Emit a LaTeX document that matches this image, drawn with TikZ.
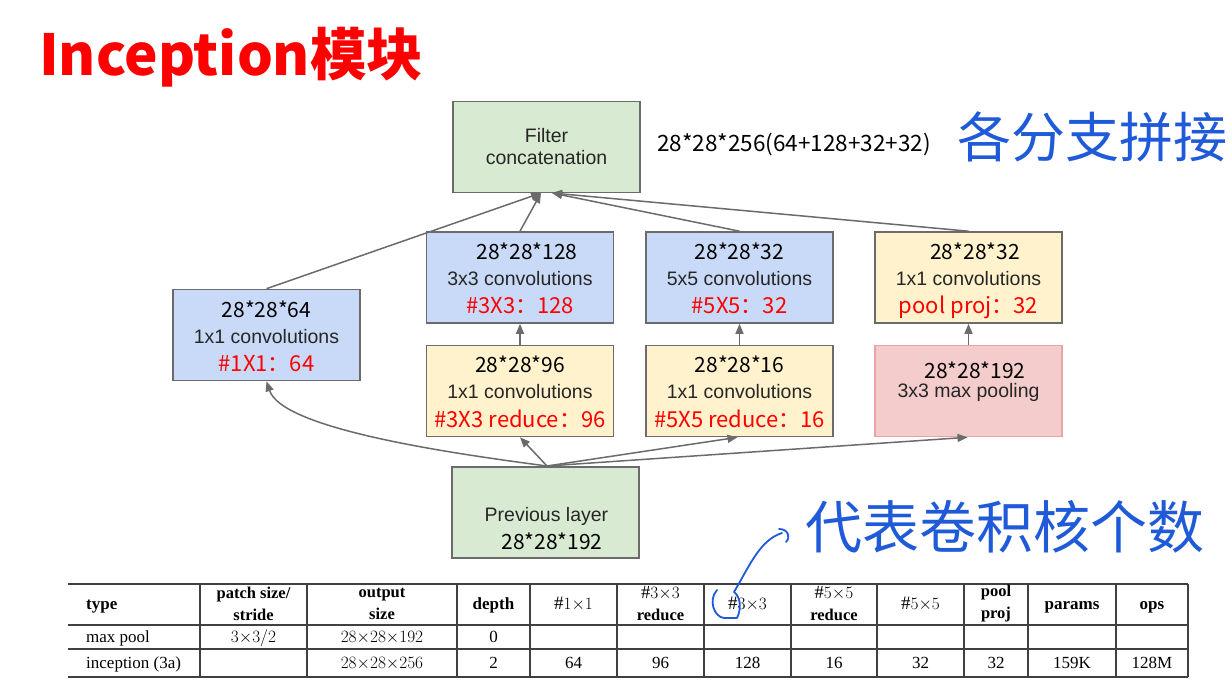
\documentclass[tikz,border=0pt]{standalone}
\usepackage{fontspec}
\setmainfont{Liberation Serif}
\newfontfamily\cjk{Noto Sans CJK SC}
\newfontfamily\arialf{Liberation Sans}
\usetikzlibrary{arrows.meta}
\definecolor{boxgreen}{HTML}{D9EAD3}
\definecolor{boxblue}{HTML}{C9DAF8}
\definecolor{boxyellow}{HTML}{FFF2CC}
\definecolor{boxpink}{HTML}{F4CCCC}
\definecolor{pinkborder}{HTML}{E8A3A3}
\definecolor{edgegray}{HTML}{6B6B6B}
\definecolor{labgray}{HTML}{262626}
\definecolor{handblue}{HTML}{1F5AD8}
\definecolor{tabline}{HTML}{404040}
\newcommand{\mth}[1]{{\fontsize{18.5}{18.5}\selectfont$#1$}}
\begin{document}
\begin{tikzpicture}[x=1pt,y=-1pt,
  box/.style={draw=edgegray, line width=1.6pt, minimum width=187pt, minimum height=91pt, inner sep=0pt},
  numtxt/.style={font=\cjk\fontsize{21}{21}\selectfont, text=black, anchor=base, inner sep=0pt},
  labtxt/.style={font=\arialf\fontsize{19.5}{19.5}\selectfont, text=labgray, anchor=base, inner sep=0pt},
  redtxt/.style={font=\cjk\fontsize{22}{22}\selectfont, text=red, anchor=base, inner sep=0pt},
  arr/.style={draw=edgegray, line width=1.5pt, -{Triangle[length=10pt,width=8pt]}},
  handtxt/.style={font=\cjk\fontsize{54}{54}\selectfont, text=handblue, inner sep=0pt},
  handline/.style={draw=handblue, line width=1.8pt, line cap=round, line join=round},
  tline/.style={draw=tabline, line width=1.4pt},
  th/.style={font=\bfseries\fontsize{17}{17}\selectfont, anchor=base, inner sep=0pt},
  th2/.style={font=\bfseries\fontsize{16.5}{22}\selectfont, align=center, anchor=center, inner sep=0pt},
  td/.style={font=\fontsize{17}{17}\selectfont, anchor=base, inner sep=0pt},
  tm/.style={font=\fontsize{19}{19}\selectfont, anchor=base, inner sep=0pt}
]
\useasboundingbox (0,0) rectangle (1232,679);
\fill[white] (0,0) rectangle (1232,679);

% title
\node[font=\cjk\bfseries\fontsize{56.5}{56.5}\selectfont, text=red, anchor=base west, inner sep=0pt] (title) at (39,76) {Inception模块};

% boxes
\node[box, fill=boxgreen] (filt) at (546.5,147) {};
\node[box, fill=boxblue] (b1) at (266.5,335) {};
\node[box, fill=boxblue] (c3) at (520,277.5) {};
\node[box, fill=boxblue] (c5) at (739.5,277.5) {};
\node[box, fill=boxyellow] (pp) at (968.5,277.5) {};
\node[box, fill=boxyellow] (r3) at (520,391) {};
\node[box, fill=boxyellow] (r5) at (739.5,391) {};
\node[box, fill=boxpink, draw=pinkborder] (mp) at (968.5,391) {};
\node[box, fill=boxgreen] (prev) at (545.5,512.5) {};

% box texts
\node[labtxt] (filt-a) at (546.5,143) {Filter};
\node[labtxt] (filt-b) at (546.5,165) {concatenation};
\node[font=\cjk\fontsize{22.5}{22.5}\selectfont, anchor=base west, inner sep=0pt] (sum) at (657,152) {28*28*256(64+128+32+32)};

\node[numtxt] (b1-a) at (266.5,317) {28*28*64};
\node[labtxt] (b1-b) at (266.5,343) {1x1 convolutions};
\node[redtxt] (b1-c) at (266.5,371) {\#1X1：64};

\node[numtxt] (c3-a) at (527,259) {28*28*128};
\node[labtxt] (c3-b) at (520,285) {3x3 convolutions};
\node[redtxt] (c3-c) at (520,313) {\#3X3：128};

\node[numtxt] (c5-a) at (739.5,259) {28*28*32};
\node[labtxt] (c5-b) at (739.5,285) {5x5 convolutions};
\node[redtxt] (c5-c) at (739.5,313) {\#5X5：32};

\node[numtxt] (pp-a) at (975,259) {28*28*32};
\node[labtxt] (pp-b) at (968.5,285) {1x1 convolutions};
\node[redtxt] (pp-c) at (968.5,313) {pool proj：32};

\node[numtxt] (r3-a) at (520,372) {28*28*96};
\node[labtxt] (r3-b) at (520,398) {1x1 convolutions};
\node[redtxt] (r3-c) at (520,427) {\#3X3 reduce：96};

\node[numtxt] (r5-a) at (739.5,372) {28*28*16};
\node[labtxt] (r5-b) at (739.5,398) {1x1 convolutions};
\node[redtxt] (r5-c) at (739.5,427) {\#5X5 reduce：16};

\node[numtxt] (mp-a) at (975,378) {28*28*192};
\node[labtxt] (mp-b) at (968.5,397) {3x3 max pooling};

\node[labtxt] (prev-a) at (546.5,521) {Previous layer};
\node[numtxt] (prev-b) at (552,549) {28*28*192};

% connectors
\coordinate (fin1) at (541,193);
\coordinate (fin2) at (552,193);
\coordinate (pout) at (547,466);
\draw[arr] (b1.north) -- (fin1);
\draw[arr] (c3.north) -- (fin1);
\draw[arr] (c5.north) -- (fin2);
\draw[arr] (pp.north) -- (fin2);
\draw[arr] (r3.north) -- (c3.south);
\draw[arr] (r5.north) -- (c5.south);
\draw[arr] (mp.north) -- (pp.south);
\draw[arr] (pout) -- (r3.south);
\draw[arr] (pout) -- ([xshift=-2pt]r5.south);
\draw[arr] (pout) -- ([xshift=-1pt]mp.south);
\draw[arr] (pout) .. controls (440,452) and (282,428) .. (b1.south);

% handwriting
\node[handtxt] (hw1) at (1092,137) {各分支拼接};
\node[handtxt, font=\cjk\fontsize{57}{57}\selectfont] (hw2) at (1005,527) {代表卷积核个数};

% table
\draw[tline] (68,584) -- (1188,584);
\draw[tline] (68,625) -- (1188,625);
\draw[tline] (68,649) -- (1188,649);
\draw[tline] (68,677) -- (1188,677);
\foreach \xx in {200,307,457,530,617,704,791,877,964,1028,1116,1188}
  \draw[tline] (\xx,584) -- (\xx,677);

\node[th, anchor=base west] (h-type) at (86,609) {type};
\node[th2] (h-ps) at (253.5,603.5) {patch size/\\stride};
\node[th2] (h-os) at (382,603.5) {output\\size};
\node[th] (h-dep) at (493.5,609) {depth};
\node[tm] (h-c1) at (573.5,609) {$\#1{\times}1$};
\node[th2] (h-r3) at (660.5,603.5) {\mth{\#3{\times}3}\\reduce};
\node[tm] (h-c3) at (747.5,609) {$\#3{\times}3$};
\node[th2] (h-r5) at (834,603.5) {\mth{\#5{\times}5}\\reduce};
\node[tm] (h-c5) at (920.5,609) {$\#5{\times}5$};
\node[th2] (h-pp) at (996,603.5) {pool\\proj};
\node[th] (h-par) at (1072,609) {params};
\node[th] (h-ops) at (1152,609) {ops};

\node[td, anchor=base west] (r1-type) at (86,642) {max pool};
\node[tm] (r1-ps) at (253.5,642) {$3{\times}3/2$};
\node[tm] (r1-os) at (382,642) {$28{\times}28{\times}192$};
\node[td] (r1-dep) at (493.5,642) {0};

\node[td, anchor=base west] (r2-type) at (86,668) {inception (3a)};
\node[tm] (r2-os) at (382,668) {$28{\times}28{\times}256$};
\node[td] (r2-dep) at (493.5,668) {2};
\node[td] (r2-c1) at (573.5,668) {64};
\node[td] (r2-r3) at (660.5,668) {96};
\node[td] (r2-c3) at (747.5,668) {128};
\node[td] (r2-r5) at (834,668) {16};
\node[td] (r2-c5) at (920.5,668) {32};
\node[td] (r2-pp) at (996,668) {32};
\node[td] (r2-par) at (1072,668) {159K};
\node[td] (r2-ops) at (1152,668) {128M};

% hand-drawn mark and arrow
\draw[handline] (717,590) .. controls (708,600) and (714,617) .. (724,618) -- (737,618)
  .. controls (742,608) and (740,596) .. (734,592)
  .. controls (750,565) and (760,540) .. (782,533);
\draw[handline] (779,529) .. controls (788,529) and (791,537) .. (786,542);
\end{tikzpicture}
\end{document}
